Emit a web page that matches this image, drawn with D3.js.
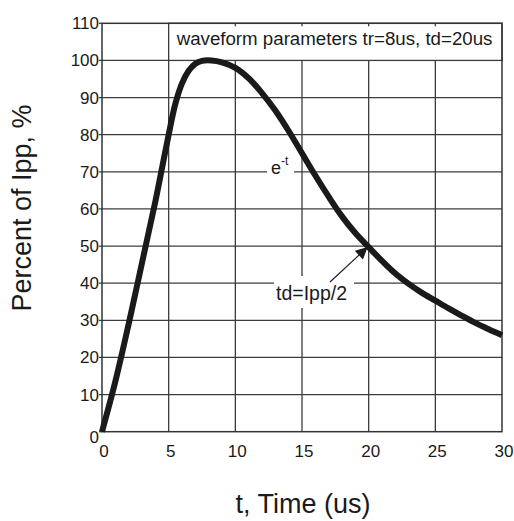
<!DOCTYPE html>
<html>
<head>
<meta charset="utf-8">
<script src="https://cdn.jsdelivr.net/npm/d3@7"></script>
<style>
  html, body { margin: 0; padding: 0; background: #fff; }
  svg { display: block; font-family: "Liberation Sans", Arial, sans-serif; }
</style>
</head>
<body>
<script>
// ---- data ----
const timeValues = [0, 1, 2, 3, 4, 4.5, 5, 5.5, 6, 6.5, 7, 7.5, 8.2, 9, 10, 11, 12, 13, 14, 15, 16, 17, 18, 19, 20, 21, 22, 23, 24, 25, 26, 27, 28, 29, 30];
const percentValues = [0, 13.5, 29, 45.5, 62, 71, 80, 88.3, 93.8, 97.2, 99.1, 99.9, 100, 99.5, 98, 95.2, 91.2, 86.5, 81, 75, 69, 63.3, 58, 53.5, 49.7, 46, 42.6, 39.8, 37.4, 35.3, 33.2, 31.2, 29.3, 27.6, 26];
const xTicks = [0, 5, 10, 15, 20, 25, 30];
const yTicks = [0, 10, 20, 30, 40, 50, 60, 70, 80, 90, 100, 110];
const legendText = "waveform parameters tr=8us, td=20us";
const xLabel = "t, Time (us)";
const yLabel = "Percent of Ipp, %";
const annoTd = "td=Ipp/2";
const annoTdPoint = [20, 50];

// ---- layout ----
const W = 514, H = 521;
const L = 102, R = 502, T = 23.3, B = 431.7;

const svg = d3.select("body").append("svg").attr("width", W).attr("height", H);
const x = d3.scaleLinear().domain([0, 30]).range([L, R]);
const y = d3.scaleLinear().domain([0, 110]).range([B, T]);

const gridColor = "#3c3c3c";

// horizontal grid lines (extend slightly left as ticks)
svg.append("g").selectAll("line").data(yTicks.filter(d => d > 0 && d < 110)).join("line")
  .attr("x1", L - 3).attr("x2", R)
  .attr("y1", d => y(d)).attr("y2", d => y(d))
  .attr("stroke", gridColor).attr("stroke-width", 1.3);

// vertical grid lines
svg.append("g").selectAll("line").data(xTicks.filter(d => d > 0 && d < 30)).join("line")
  .attr("x1", d => x(d)).attr("x2", d => x(d))
  .attr("y1", T).attr("y2", B)
  .attr("stroke", gridColor).attr("stroke-width", 1.3);

// legend box (white, covers grid)
svg.append("rect")
  .attr("x", x(5)).attr("y", y(110))
  .attr("width", x(30) - x(5)).attr("height", y(100) - y(110))
  .attr("fill", "#fff").attr("stroke", gridColor).attr("stroke-width", 1.3);
svg.append("g").selectAll("line").data([10, 15, 20, 25]).join("line")
  .attr("x1", d => x(d)).attr("x2", d => x(d))
  .attr("y1", y(110)).attr("y2", y(110) + 3)
  .attr("stroke", gridColor).attr("stroke-width", 1.3);
svg.append("text")
  .attr("x", x(5) + 8).attr("y", 45)
  .attr("font-size", 18.7).attr("fill", "#1a1a1a")
  .text(legendText);

// frame
svg.append("rect")
  .attr("x", L).attr("y", T).attr("width", R - L).attr("height", B - T)
  .attr("fill", "none").attr("stroke", "#333").attr("stroke-width", 1.5);
svg.append("g").selectAll("line").data([0, 110]).join("line")
  .attr("x1", L - 3).attr("x2", L)
  .attr("y1", d => y(d)).attr("y2", d => y(d))
  .attr("stroke", gridColor).attr("stroke-width", 1.3);

// e^-t label with white background on the 70 gridline
svg.append("rect").attr("x", 267).attr("y", 154).attr("width", 27).attr("height", 23).attr("fill", "#fff");
const et = svg.append("text").attr("x", 271).attr("y", 174).attr("font-size", 18).attr("fill", "#1a1a1a");
et.append("tspan").text("e");
et.append("tspan").attr("font-size", 12).attr("dy", -9).text("-t");

// td label with white background
svg.append("rect").attr("x", 274).attr("y", 276).attr("width", 80).attr("height", 32).attr("fill", "#fff");
svg.append("text").attr("x", 276).attr("y", 300).attr("font-size", 19.5).attr("fill", "#1a1a1a").text(annoTd);

// arrow
svg.append("defs").append("marker")
  .attr("id", "ah").attr("viewBox", "0 0 10 10").attr("refX", 10).attr("refY", 5)
  .attr("markerWidth", 16).attr("markerHeight", 12).attr("markerUnits", "userSpaceOnUse")
  .attr("orient", "auto")
  .append("path").attr("d", "M0,0 L10,5 L0,10 Z").attr("fill", "#1a1a1a");
svg.append("line")
  .attr("x1", 330).attr("y1", 282)
  .attr("x2", x(annoTdPoint[0]) - 1).attr("y2", y(annoTdPoint[1]) + 1)
  .attr("stroke", "#1a1a1a").attr("stroke-width", 1.1)
  .attr("marker-end", "url(#ah)");

// curve
const pts = timeValues.map((t, i) => [t, percentValues[i]]);
svg.append("path")
  .datum(pts)
  .attr("d", d3.line().x(d => x(d[0])).y(d => y(d[1])).curve(d3.curveCatmullRom.alpha(0.5)))
  .attr("fill", "none").attr("stroke", "#1a1a1a").attr("stroke-width", 6)
  .attr("stroke-linecap", "butt").attr("stroke-linejoin", "round");

// y tick labels
svg.append("g").selectAll("text").data(yTicks).join("text")
  .attr("x", L - 3).attr("y", d => d === 0 ? y(d) + 11 : y(d) + 6)
  .attr("text-anchor", "end").attr("font-size", 17).attr("fill", "#1a1a1a")
  .text(d => d);

// x tick labels
svg.append("g").selectAll("text").data(xTicks).join("text")
  .attr("x", d => x(d) + 2).attr("y", 456.5)
  .attr("text-anchor", "middle").attr("font-size", 17).attr("fill", "#1a1a1a")
  .text(d => d);

// axis titles
svg.append("text")
  .attr("x", 303).attr("y", 513)
  .attr("text-anchor", "middle").attr("font-size", 27).attr("fill", "#1a1a1a")
  .text(xLabel);
svg.append("text")
  .attr("transform", "translate(31,208) rotate(-90)")
  .attr("text-anchor", "middle").attr("font-size", 27).attr("fill", "#1a1a1a")
  .text(yLabel);
</script>
</body>
</html>
